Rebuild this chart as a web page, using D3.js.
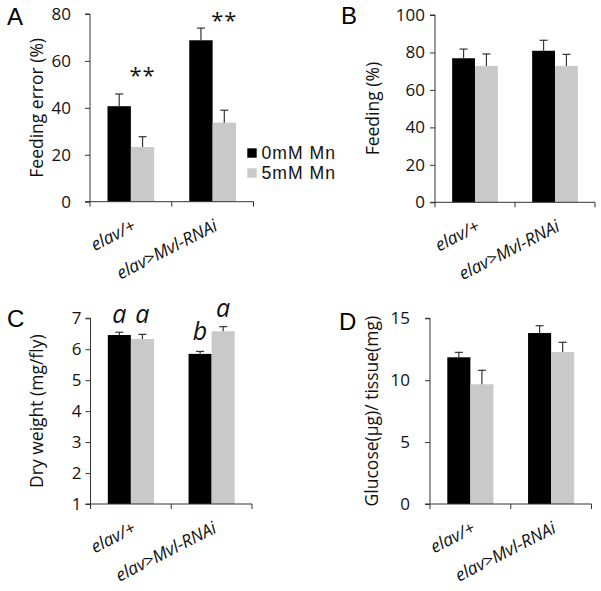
<!DOCTYPE html>
<html>
<head>
<meta charset="utf-8">
<script src="https://cdn.jsdelivr.net/npm/d3@7"></script>
<style>
  html, body { margin: 0; padding: 0; background: #fff; }
  svg { display: block; font-family: "Open Sans", "Noto Sans", sans-serif; }
</style>
</head>
<body>
<svg id="chart" width="601" height="591"></svg>
<script>
// ---------- data ----------
const categories = ["elav/+", "elav>Mvl-RNAi"];
const seriesNames = ["0mM Mn", "5mM Mn"];

// Panel A: Feeding error (%)
const feedErrMean0 = [40.7, 68.8];
const feedErrSem0  = [5.2, 5.2];
const feedErrMean5 = [23.3, 33.7];
const feedErrSem5  = [4.4, 5.3];
const feedErrTicks = [0, 20, 40, 60, 80];
const feedErrMarks = ["**", "**"];          // above 5mM bars
const feedErrMarkY = [50.6, 74.0];

// Panel B: Feeding (%)
const feedMean0 = [76.9, 80.9];
const feedSem0  = [4.9, 5.6];
const feedMean5 = [72.8, 72.8];
const feedSem5  = [6.4, 6.2];
const feedTicks = [0, 20, 40, 60, 80, 100];

// Panel C: Dry weight (mg/fly)
const dryMean0 = [6.46, 5.85];
const drySem0  = [0.09, 0.08];
const dryMean5 = [6.33, 6.58];
const drySem5  = [0.15, 0.15];
const dryTicks = [1, 2, 3, 4, 5, 6, 7];
const dryLetters0 = ["a", "b"];
const dryLetters5 = ["a", "a"];
const dryLetterY0 = [6.84, 6.30];
const dryLetterY5 = [6.84, 7.05];

// Panel D: Glucose
const glucMean0 = [11.85, 13.81];
const glucSem0  = [0.40, 0.59];
const glucMean5 = [9.67, 12.28];
const glucSem5  = [1.13, 0.78];
const glucTicks = [0, 5, 10, 15];

// ---------- drawing ----------
const svg = d3.select("#chart");
const colors = ["#000000", "#c9c9c9"];
const axisColor = "#333";

function panel(cfg) {
  const g = svg.append("g");
  const x = d3.scaleBand().domain(categories).range([cfg.x0, cfg.x1]).paddingInner(0).paddingOuter(0);
  const xs = d3.scaleBand().domain(seriesNames).range([0, x.bandwidth()]).paddingInner(0).paddingOuter(0.75);
  const y = d3.scaleLinear().domain(cfg.domain).range([cfg.y0, cfg.y1]);

  const rows = [];
  categories.forEach((c, i) => {
    rows.push({ cat: c, s: seriesNames[0], v: cfg.m0[i], e: cfg.e0[i], col: colors[0] });
    rows.push({ cat: c, s: seriesNames[1], v: cfg.m5[i], e: cfg.e5[i], col: colors[1] });
  });

  // bars
  g.selectAll("rect.bar").data(rows).join("rect")
    .attr("class", "bar")
    .attr("x", d => x(d.cat) + xs(d.s))
    .attr("width", xs.bandwidth())
    .attr("y", d => y(d.v))
    .attr("height", d => y(cfg.domain[0]) - y(d.v))
    .attr("fill", d => d.col);

  // error bars (upper only)
  const cap = 4;
  rows.forEach(d => {
    const cx = x(d.cat) + xs(d.s) + xs.bandwidth() / 2;
    g.append("line").attr("x1", cx).attr("x2", cx)
      .attr("y1", y(d.v)).attr("y2", y(d.v + d.e))
      .attr("stroke", "#333").attr("stroke-width", 1.2);
    g.append("line").attr("x1", cx - cap).attr("x2", cx + cap)
      .attr("y1", y(d.v + d.e)).attr("y2", y(d.v + d.e))
      .attr("stroke", "#333").attr("stroke-width", 1.2);
  });

  // y axis
  const yAxis = d3.axisLeft(y).tickValues(cfg.ticks).tickSize(5).tickPadding(cfg.tickPad).tickFormat(d3.format("d"));
  const ya = g.append("g").attr("transform", `translate(${cfg.x0},0)`).call(yAxis);
  ya.select(".domain").attr("stroke", axisColor).attr("d", `M-5,${y(cfg.domain[0])}H0V${y(cfg.domain[1])}H-5`);
  ya.selectAll(".tick line").attr("stroke", axisColor);
  ya.selectAll(".tick text").attr("font-size", 17).attr("fill", "#111").attr("font-family", "Open Sans");

  // x axis
  const yb = y(cfg.domain[0]);
  g.append("line").attr("x1", cfg.x0).attr("x2", cfg.x1).attr("y1", yb).attr("y2", yb).attr("stroke", axisColor);
  const edges = [x.range()[0]].concat(categories.map(c => x(c) + x.bandwidth()));
  g.selectAll("line.xt").data(edges).join("line").attr("class", "xt")
    .attr("x1", d => d).attr("x2", d => d).attr("y1", yb).attr("y2", yb + 5).attr("stroke", axisColor);
  g.selectAll("text.xl").data(categories).join("text").attr("class", "xl")
    .attr("transform", c => `translate(${x(c) + x.bandwidth() / 2 + 6},${yb + 28}) rotate(-27)`)
    .attr("text-anchor", "end")
    .attr("font-size", 17.5).attr("font-style", "italic").attr("fill", "#111")
    .text(c => c);

  // y title
  g.append("text")
    .attr("transform", `translate(${cfg.titleX},${(cfg.y0 + cfg.y1) / 2}) rotate(-90)`)
    .attr("text-anchor", "middle").attr("font-size", 17.5).attr("fill", "#111")
    .text(cfg.title);

  // panel letter
  g.append("text").attr("x", cfg.lx).attr("y", cfg.ly).attr("font-size", 24)
    .attr("font-family", "Liberation Sans, Arial, sans-serif").attr("fill", "#000").text(cfg.letter);

  return { g, x, xs, y };
}

const A = panel({ x0: 90, x1: 253.5, y0: 201.7, y1: 14, domain: [0, 80], ticks: feedErrTicks, tickPad: 14,
  m0: feedErrMean0, e0: feedErrSem0, m5: feedErrMean5, e5: feedErrSem5,
  title: "Feeding error (%)", titleX: 43, letter: "A", lx: 7, ly: 25 });
const B = panel({ x0: 435, x1: 595, y0: 202.3, y1: 15, domain: [0, 100], ticks: feedTicks, tickPad: 5,
  m0: feedMean0, e0: feedSem0, m5: feedMean5, e5: feedSem5,
  title: "Feeding (%)", titleX: 379, letter: "B", lx: 341, ly: 23.5 });
const C = panel({ x0: 90.5, x1: 252, y0: 504, y1: 318.3, domain: [1, 7], ticks: dryTicks, tickPad: 4,
  m0: dryMean0, e0: drySem0, m5: dryMean5, e5: drySem5,
  title: "Dry weight  (mg/fly)", titleX: 43, letter: "C", lx: 7, ly: 327 });
const D = panel({ x0: 430, x1: 591.5, y0: 504, y1: 318.3, domain: [0, 15], ticks: glucTicks, tickPad: 15,
  m0: glucMean0, e0: glucSem0, m5: glucMean5, e5: glucSem5,
  title: "Glucose(\u00b5g)/ tissue(mg)", titleX: 378, letter: "D", lx: 339, ly: 330 });

// significance marks in A (over 5mM bars)
A.g.selectAll("text.sig").data(categories).join("text").attr("class", "sig")
  .attr("x", (c) => A.x(c) + A.xs(seriesNames[1]) + A.xs.bandwidth() / 2)
  .attr("y", (c, i) => A.y(feedErrMarkY[i]))
  .attr("text-anchor", "middle").attr("font-size", 22).attr("letter-spacing", 1).attr("fill", "#111")
  .text((c, i) => feedErrMarks[i]);

// letters in C
[0, 1].forEach(si => {
  const letters = si === 0 ? dryLetters0 : dryLetters5;
  const ly = si === 0 ? dryLetterY0 : dryLetterY5;
  C.g.selectAll("text.let" + si).data(categories).join("text").attr("class", "let" + si)
    .attr("x", c => C.x(c) + C.xs(seriesNames[si]) + C.xs.bandwidth() / 2)
    .attr("y", (c, i) => C.y(ly[i]))
    .attr("text-anchor", "middle").attr("font-size", 25).attr("font-style", "italic").attr("fill", "#111")
    .text((c, i) => letters[i]);
});

// legend (panel A)
const legY = d3.scaleBand().domain(seriesNames).range([143, 183]);
const leg = svg.append("g");
leg.selectAll("rect").data(seriesNames).join("rect")
  .attr("x", 247.3).attr("y", d => legY(d) + legY.bandwidth() / 2 - 4.7)
  .attr("width", 9.4).attr("height", 9.4)
  .attr("fill", (d, i) => colors[i]);
leg.selectAll("text").data(seriesNames).join("text")
  .attr("x", 261.5).attr("y", d => legY(d) + legY.bandwidth() / 2)
  .attr("dy", "0.36em").attr("font-size", 17.6).attr("letter-spacing", 1)
  .attr("font-family", "Liberation Sans, Arial, sans-serif").attr("fill", "#111")
  .text(d => d);
</script>
</body>
</html>
